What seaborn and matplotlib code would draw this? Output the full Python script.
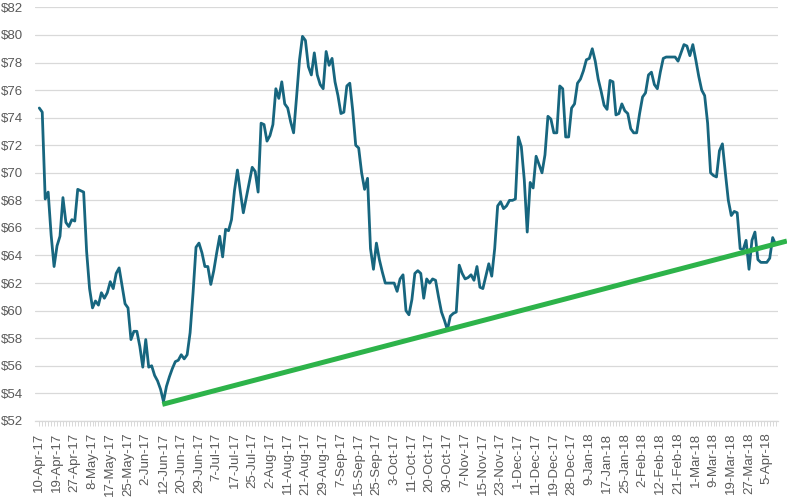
import numpy as np
import pandas as pd
import matplotlib
matplotlib.use("Agg")
import matplotlib.pyplot as plt
import seaborn as sns

# ---- data ----
prices = [
    74.7, 74.4, 68.1, 68.6, 65.5, 63.2, 64.7, 65.4, 68.2, 66.4,
    66.1, 66.6, 66.5, 68.8, 68.7, 68.6, 64.3, 61.6, 60.2, 60.7,
    60.4, 61.3, 60.9, 61.3, 62.1, 61.6, 62.7, 63.1, 61.8, 60.5,
    60.2, 57.9, 58.5, 58.5, 57.4, 55.9, 57.9, 55.9, 56.0, 55.3,
    54.9, 54.3, 53.4, 54.5, 55.2, 55.8, 56.3, 56.4, 56.8, 56.5,
    56.8, 58.4, 61.3, 64.6, 64.9, 64.2, 63.2, 63.2, 61.9, 62.9,
    64.2, 65.4, 63.9, 65.9, 65.8, 66.6, 68.7, 70.2, 68.6, 67.1,
    68.2, 69.3, 70.4, 70.1, 68.6, 73.6, 73.5, 72.3, 72.7, 73.5,
    76.1, 75.4, 76.6, 75.0, 74.7, 73.7, 72.9, 75.5, 78.2, 79.9,
    79.6, 77.7, 77.1, 78.7, 77.1, 76.4, 76.1, 78.8, 77.8, 78.3,
    76.6, 75.6, 74.3, 74.4, 76.3, 76.5, 74.5, 72.0, 71.8, 70.0,
    68.8, 69.6, 64.5, 63.0, 64.9, 63.7, 62.8, 62.0, 62.0, 62.0,
    62.0, 61.4, 62.3, 62.6, 60.0, 59.7, 60.8, 62.7, 62.9, 62.7,
    60.9, 62.3, 62.0, 62.3, 62.2, 61.0, 59.9, 59.3, 58.6, 59.6,
    59.8, 59.9, 63.3, 62.7, 62.3, 62.4, 62.6, 62.2, 63.2, 61.7,
    61.6, 62.5, 63.4, 62.5, 64.5, 67.6, 67.9, 67.4, 67.6, 68.0,
    68.0, 68.1, 72.6, 71.9, 69.5, 65.7, 69.3, 68.9, 71.2, 70.6,
    70.0, 71.3, 74.1, 73.9, 72.9, 72.9, 76.3, 76.1, 72.6, 72.6,
    74.7, 75.0, 76.5, 76.8, 77.4, 78.2, 78.3, 79.0, 78.1, 76.8,
    75.9, 74.9, 74.6, 76.7, 76.6, 74.2, 74.3, 75.0, 74.5, 74.3,
    73.2, 72.9, 72.9, 74.3, 75.5, 75.8, 77.1, 77.3, 76.4, 76.1,
    77.3, 78.3, 78.4, 78.4, 78.4, 78.4, 78.1, 78.7, 79.3, 79.2,
    78.5, 79.3, 78.2, 77.0, 76.0, 75.6, 73.6, 70.0, 69.8, 69.7,
    71.6, 72.1, 70.0, 68.0, 66.9, 67.2, 67.1, 64.5, 64.4, 65.1,
    63.0, 65.1, 65.7, 63.7, 63.5, 63.5, 63.5, 63.8, 65.3, 64.8,
]

tick_labels = [
    "10-Apr-17", "19-Apr-17", "27-Apr-17", "8-May-17", "17-May-17", "25-May-17",
    "2-Jun-17", "12-Jun-17", "20-Jun-17", "29-Jun-17", "7-Jul-17", "17-Jul-17",
    "25-Jul-17", "2-Aug-17", "11-Aug-17", "21-Aug-17", "29-Aug-17", "7-Sep-17",
    "15-Sep-17", "25-Sep-17", "3-Oct-17", "11-Oct-17", "20-Oct-17", "30-Oct-17",
    "7-Nov-17", "15-Nov-17", "23-Nov-17", "1-Dec-17", "11-Dec-17", "19-Dec-17",
    "28-Dec-17", "9-Jan-18", "17-Jan-18", "25-Jan-18", "2-Feb-18", "12-Feb-18",
    "21-Feb-18", "1-Mar-18", "9-Mar-18", "19-Mar-18", "27-Mar-18", "5-Apr-18",
]
label_step = 6

# trendline anchors (category position, price)
trend_x = [41.6, 252.8]
trend_y = [53.2, 65.05]

y_ticks = list(range(52, 83, 2))

# ---- plot ----
sns.set_theme(style="white")
plt.rcParams['font.family'] = ['Liberation Sans', 'DejaVu Sans']

fig = plt.figure(figsize=(7.87, 4.99), dpi=100)
ax = fig.add_axes([35 / 787, 1 - 420.9 / 499, (778 - 35) / 787, (420.9 - 7.4) / 499])

df = pd.DataFrame({"idx": np.arange(len(prices)), "price": prices})
sns.lineplot(data=df, x="idx", y="price", ax=ax, color="#17667f", lw=2.0, zorder=2)
ax.plot(trend_x, trend_y, color="#2db34a", lw=3.6, clip_on=False,
        solid_capstyle="butt", zorder=3)

ax.set_xlim(-1.45, 249.8)
ax.set_ylim(52, 82)
ax.set_yticks(y_ticks)
ax.set_yticklabels([f"${v}" for v in y_ticks])

major_pos = [i * label_step for i in range(len(tick_labels))]
ax.set_xticks(major_pos)
ax.set_xticklabels(tick_labels, rotation=90)
ax.set_xticks(np.arange(len(prices)), minor=True)

ax.set_xlabel("")
ax.set_ylabel("")

ax.yaxis.grid(True, color="#d9d9d9", lw=0.9)
ax.xaxis.grid(False)
ax.set_axisbelow(True)
for s in ["top", "right", "left"]:
    ax.spines[s].set_visible(False)
ax.spines["bottom"].set_color("#d9d9d9")
ax.spines["bottom"].set_linewidth(0.9)

ax.tick_params(axis="x", which="both", bottom=True, length=3.5, width=0.7,
               color="#d9d9d9", labelcolor="#595959", labelsize=9.5, pad=5)
ax.tick_params(axis="y", length=0, labelcolor="#595959", labelsize=9.5, pad=8.5)

fig.savefig("out.png", dpi=100)
